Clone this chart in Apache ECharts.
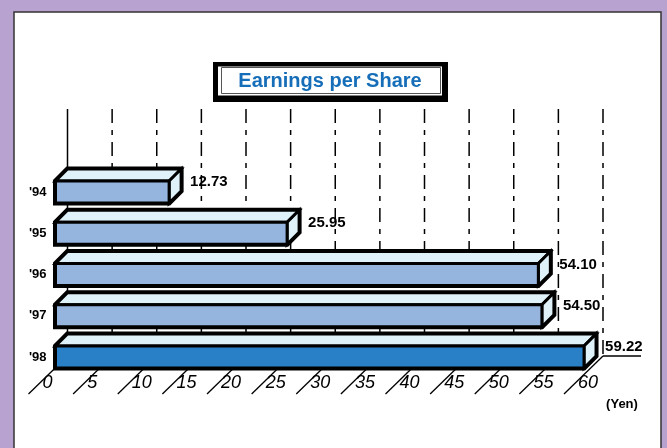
<!DOCTYPE html>
<html>
<head>
<meta charset="utf-8">
<script src="https://cdn.jsdelivr.net/npm/echarts/dist/echarts.min.js"></script>
<style>
  html, body { margin: 0; padding: 0; background: #b8a3d0; }
  #chart { width: 667px; height: 448px; }
</style>
</head>
<body>
<div id="chart"></div>
<script>
// Earnings per share, fiscal years
const years = ["'94", "'95", "'96", "'97", "'98"];
const eps = [12.73, 25.95, 54.10, 54.50, 59.22];
const xTicks = [0, 5, 10, 15, 20, 25, 30, 35, 40, 45, 50, 55, 60];

const FONT = '"Liberation Sans", Arial, sans-serif';
const DEPTH = 12;      // 3d offset of the back plane
const BAR_H = 22;      // front face height
const BACK_TOP = 109;  // top of the back wall gridlines

const chart = echarts.init(document.getElementById('chart'));

function floorFront(api) {
    return api.coord([0, years.length - 1])[1] + BAR_H / 2;
}

function renderGridLine(params, api) {
    const v = api.value(0);
    const x = api.coord([v, 0])[0] + DEPTH;
    const yb = floorFront(api) - DEPTH;
    const children = [{
        type: 'line',
        shape: { x1: x, y1: BACK_TOP, x2: x, y2: yb },
        style: { stroke: '#000', lineWidth: 1.5, lineDash: v === 0 ? null : [14, 7, 5, 7] }
    }];
    if (v === xTicks[xTicks.length - 1]) {
        children.push({
            type: 'line',
            shape: { x1: x, y1: yb, x2: x + 38, y2: yb },
            style: { stroke: '#000', lineWidth: 1.5 }
        });
    }
    return { type: 'group', children };
}

function renderTick(params, api) {
    const v = api.value(0);
    const x = api.coord([v, 0])[0];
    const yf = floorFront(api);
    return {
        type: 'group',
        children: [{
            type: 'line',
            shape: { x1: x + DEPTH, y1: yf - DEPTH, x2: x - 27, y2: yf + 26 },
            style: { stroke: '#000', lineWidth: 1.3 }
        }, {
            type: 'text',
            style: {
                x: x - 13, y: yf + 15, text: String(v),
                font: 'italic 18px ' + FONT, fill: '#000',
                align: 'left', verticalAlign: 'middle'
            }
        }]
    };
}

function renderBar(params, api) {
    const v = api.value(0);
    const ci = api.value(1);
    const p0 = api.coord([0, ci]);
    const p1 = api.coord([v, ci]);
    const x0 = p0[0], x1 = p1[0];
    const yT = p0[1] - BAR_H / 2, yB = p0[1] + BAR_H / 2;
    const d = DEPTH;
    const front = ci === years.length - 1 ? '#2a80c6' : '#95b5de';
    const light = '#dff2fa';
    const line = { stroke: '#000', lineWidth: 3, lineJoin: 'miter' };
    return {
        type: 'group',
        children: [{
            type: 'polygon',
            shape: { points: [[x0, yT], [x0 + d, yT - d], [x1 + d, yT - d], [x1 + d, yB - d], [x1, yB], [x0, yB]] },
            style: { fill: 'none', stroke: '#000', lineWidth: 5, lineJoin: 'miter' }
        }, {
            type: 'polygon',
            shape: { points: [[x0, yT], [x0 + d, yT - d], [x1 + d, yT - d], [x1, yT]] },
            style: Object.assign({ fill: light }, line)
        }, {
            type: 'polygon',
            shape: { points: [[x1, yT], [x1 + d, yT - d], [x1 + d, yB - d], [x1, yB]] },
            style: Object.assign({ fill: light }, line)
        }, {
            type: 'rect',
            shape: { x: x0, y: yT, width: x1 - x0, height: BAR_H },
            style: Object.assign({ fill: front }, line)
        }, {
            type: 'text',
            style: {
                x: x1 + d + 9, y: p0[1] - 10, text: v.toFixed(2),
                font: 'bold 15px ' + FONT, fill: '#000',
                align: 'left', verticalAlign: 'middle'
            }
        }]
    };
}

const option = {
    backgroundColor: '#b8a3d0',
    animation: false,
    graphic: [
        {
            type: 'rect', z: -10,
            shape: { x: 14, y: 12, width: 647, height: 440 },
            style: { fill: '#fff', stroke: '#333', lineWidth: 1.5 }
        },
        {
            type: 'group',
            children: [
                { type: 'rect', shape: { x: 213, y: 62, width: 235, height: 40 }, style: { fill: '#000' } },
                { type: 'rect', shape: { x: 218, y: 66.5, width: 224, height: 29 }, style: { fill: '#fff' } },
                { type: 'rect', shape: { x: 221.5, y: 67.5, width: 219, height: 26 }, style: { fill: 'none', stroke: '#555', lineWidth: 1 } },
                {
                    type: 'text',
                    style: {
                        x: 330, y: 81, text: 'Earnings per Share',
                        font: 'bold 20px ' + FONT, fill: '#166eb9',
                        align: 'center', verticalAlign: 'middle'
                    }
                }
            ]
        },
        {
            type: 'text',
            style: {
                x: 622, y: 404, text: '(Yen)',
                font: 'bold 13px ' + FONT, fill: '#000',
                align: 'center', verticalAlign: 'middle'
            }
        }
    ],
    grid: { left: 55.5, right: 76, top: 171.4, bottom: 70.4, outerBoundsMode: 'none' },
    xAxis: {
        type: 'value', min: 0, max: 60, interval: 5,
        axisLine: { show: false }, axisTick: { show: false },
        axisLabel: { show: false }, splitLine: { show: false }
    },
    yAxis: {
        type: 'category', data: years, inverse: true,
        axisLine: { show: false }, axisTick: { show: false },
        axisLabel: {
            color: '#000', fontFamily: FONT, fontWeight: 'bold', fontSize: 13,
            margin: 9, padding: [0, 0, 10, 0]
        }
    },
    series: [
        {
            type: 'custom', renderItem: renderGridLine, z: 1,
            data: xTicks.map(v => [v, 0]), encode: { x: 0, y: 1 }
        },
        {
            type: 'custom', renderItem: renderTick, z: 2,
            data: xTicks.map(v => [v, 0]), encode: { x: 0, y: 1 }
        },
        {
            type: 'custom', renderItem: renderBar, z: 3,
            data: eps.map((v, i) => [v, i]), encode: { x: 0, y: 1 }
        }
    ]
};

chart.setOption(option);
</script>
</body>
</html>
